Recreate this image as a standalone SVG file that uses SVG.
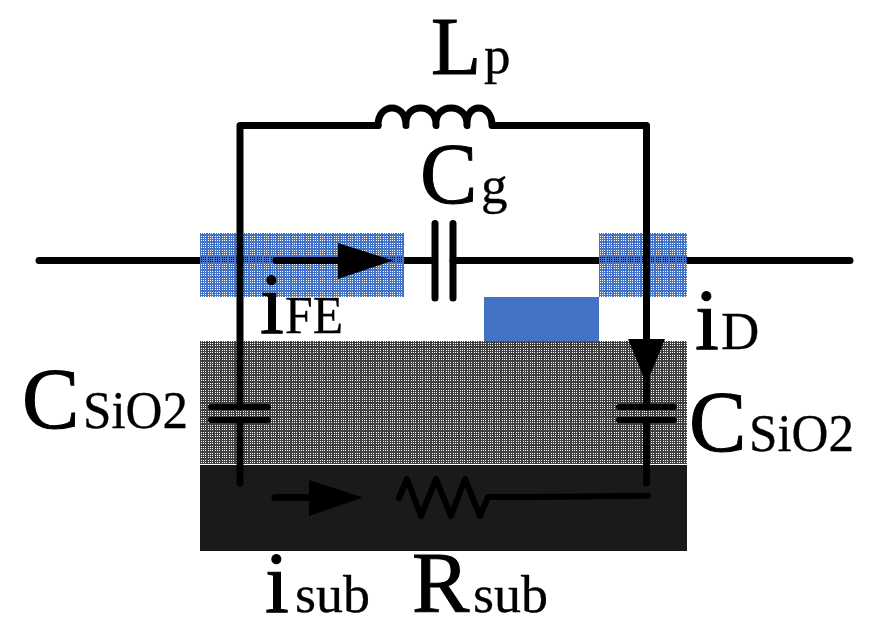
<svg xmlns="http://www.w3.org/2000/svg" width="871" height="633" viewBox="0 0 871 633">
<style>
.w{fill:none;stroke:#000;stroke-width:7;stroke-linecap:round;stroke-linejoin:round}
.p{stroke-width:6}
.t{font-family:"Liberation Serif","DejaVu Serif",serif;fill:#000;stroke:#000}
.b{font-size:86px;stroke-width:1}
.s{font-size:53px;stroke-width:.3}
.o{fill-rule:evenodd;shape-rendering:crispEdges}
</style>
<defs>
<path id="tile" class="o" d="M0 0H7V7H0Z M0 0V1H1V0Z M2 0V1H3V0Z M5 0V1H6V0Z M0 2V3H1V2Z M2 2V3H3V2Z M5 2V3H6V2Z M0 5V6H1V5Z M2 5V6H3V5Z M5 5V6H6V5Z"/>
<pattern id="pb" width="7" height="7" patternUnits="userSpaceOnUse"><use href="#tile" fill="#4472c4"/></pattern>
<pattern id="pg" width="7" height="7" patternUnits="userSpaceOnUse"><use href="#tile" fill="#404040"/></pattern>
</defs>
<rect width="871" height="633" fill="#fff"/>
<g id="bus"><path class="w" d="M39 260.500H434M453 260.500H850"/></g>
<g id="regions">
<rect id="fe-contact" x="200" y="233" width="204" height="64" fill="url(#pb)"/>
<rect id="d-contact" x="599" y="233" width="88" height="64" fill="url(#pb)"/>
<rect id="gate" x="484" y="297" width="115" height="45" fill="#4472c4"/>
<rect id="oxide" x="200" y="341" width="487" height="123" fill="url(#pg)"/>
<rect id="substrate" x="200" y="465" width="487" height="86" fill="#1a1a1a"/>
</g>
<g id="connectors">
<path class="w" d="M240 407V125.500H378"/>
<path class="w" d="M240 420V483"/>
<path class="w" d="M378 125.500C378 102 406 102 406 125.500C404 102 437 102 436 125.500C434 102 468 102 467 125.500C465 102 492 102 492 125.500H646.500V407"/>
<path class="w" d="M646.500 420V483"/>
<path class="w" d="M276 260.500H345"/>
<path d="M338 243 393 260.500 338 279Z"/>
<path class="w" d="M435 223.500V298M453 223.500V298"/>
<path d="M628 339H665L646.500 384Z"/>
<path class="w p" d="M211 407H268M211 420H268M619 407H674M619 420H674"/>
<path class="w" d="M275 497.500H315"/>
<path d="M309 480 363 497.500 309 516Z"/>
<path class="w p" d="M399 498 407 479 421 516 436 479 451 516 465 479 480 516 488 497H533L648 495.700"/>
</g>
<g id="labels">
<text class="t b" x="431" y="74" style="font-size:82px">L</text><text class="t s" x="484" y="73">p</text>
<text class="t b" x="420" y="203">C</text><text class="t s" x="481" y="203">g</text>
<text class="t b" x="260" y="333">i</text><text class="t s" x="285" y="333" textLength="58" lengthAdjust="spacingAndGlyphs">FE</text>
<text class="t b" x="695" y="349">i</text><text class="t s" x="721" y="349">D</text>
<text class="t b" x="22" y="428">C</text><text class="t s" x="83" y="428" textLength="105" lengthAdjust="spacingAndGlyphs">SiO2</text>
<text class="t b" x="689" y="451">C</text><text class="t s" x="749" y="451" textLength="105" lengthAdjust="spacingAndGlyphs">SiO2</text>
<text class="t b" x="265" y="612">i</text><text class="t s" x="295" y="612" textLength="75" lengthAdjust="spacingAndGlyphs">sub</text>
<text class="t b" x="412" y="612">R</text><text class="t s" x="473" y="612" textLength="75" lengthAdjust="spacingAndGlyphs">sub</text>
</g>
</svg>
